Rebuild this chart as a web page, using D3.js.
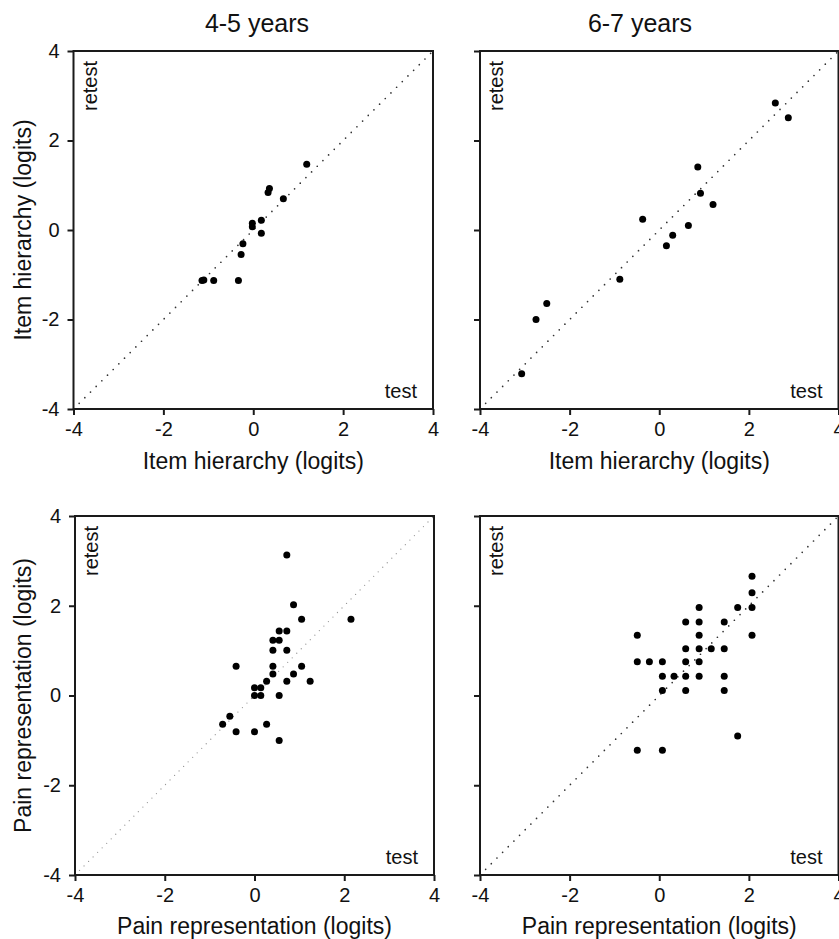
<!DOCTYPE html>
<html>
<head>
<meta charset="utf-8">
<script src="https://cdn.jsdelivr.net/npm/d3@7/dist/d3.min.js"></script>
<style>
  html, body { margin: 0; padding: 0; background: #fff; }
  svg { display: block; }
  text { font-family: "Liberation Sans", Arial, sans-serif; fill: #111; }
</style>
</head>
<body>
<svg id="chart" width="839" height="939"></svg>
<script>
// ---- data (logits) ----
const ticks = [-4, -2, 0, 2, 4];
const tickLabels = ["-4", "-2", "0", "2", "4"];
const titles = ["4-5 years", "6-7 years"];
const xLabels = ["Item hierarchy (logits)", "Pain representation (logits)"];
const yLabels = ["Item hierarchy (logits)", "Pain representation  (logits)"];

// Item hierarchy, 4-5 years
const item45Test   = [1.19, 0.33, 0.36, 0.67, -0.02, -0.02, 0.18, 0.18, -0.23, -0.27, -1.14, -1.10, -0.88, -0.33];
const item45Retest = [1.47, 0.84, 0.93, 0.70, 0.15, 0.07, 0.22, -0.07, -0.31, -0.55, -1.13, -1.12, -1.13, -1.13];

// Item hierarchy, 6-7 years
const item67Test   = [2.59, 2.88, 0.86, 0.92, 1.20, -0.37, 0.65, 0.30, 0.16, -0.88, -2.51, -2.75, -3.07];
const item67Retest = [2.84, 2.51, 1.41, 0.82, 0.57, 0.24, 0.10, -0.12, -0.35, -1.10, -1.64, -2.00, -3.21];

// Pain representation, 4-5 years
const pain45Test   = [0.72, 0.87, 1.05, 2.15, 0.55, 0.72, 0.41, 0.55, 0.41, 0.72, -0.41, 0.41, 1.05, 0.41, 0.87,
                      0.27, 0.72, 1.24, 0.00, 0.14, 0.00, 0.14, 0.55, -0.55, -0.71, 0.27, -0.41, 0.00, 0.55];
const pain45Retest = [3.13, 2.02, 1.70, 1.70, 1.44, 1.44, 1.23, 1.23, 1.01, 1.01, 0.65, 0.65, 0.65, 0.48, 0.48,
                      0.32, 0.32, 0.32, 0.17, 0.17, 0.00, 0.00, 0.00, -0.46, -0.64, -0.64, -0.81, -0.81, -1.00];

// Pain representation, 6-7 years
const pain67Test   = [2.07, 2.07, 0.89, 1.75, 2.07, 0.59, 0.89, 1.45, -0.49, 0.89, 2.07, 0.59, 0.89, 1.16, 1.45,
                      -0.49, -0.22, 0.07, 0.59, 0.89, 0.07, 0.33, 0.59, 0.89, 1.45, 0.07, 0.59, 1.45, 1.75, -0.49, 0.07];
const pain67Retest = [2.66, 2.29, 1.96, 1.96, 1.96, 1.64, 1.64, 1.64, 1.34, 1.34, 1.34, 1.04, 1.04, 1.04, 1.04,
                      0.75, 0.75, 0.75, 0.75, 0.75, 0.43, 0.43, 0.43, 0.43, 0.43, 0.11, 0.11, 0.11, -0.90, -1.22, -1.22];

// ---- layout ----
const panels = [
  { test: item45Test, retest: item45Retest, x0: 73.5, x1: 433, y0: 51, y1: 409, yLab: true, row: 0, col: 0,
    diag: { color: "#333", width: 1.7, dash: "0 8" } },
  { test: item67Test, retest: item67Retest, x0: 480, x1: 838.5, y0: 51, y1: 409, yLab: false, row: 0, col: 1,
    diag: { color: "#333", width: 1.7, dash: "0 8" } },
  { test: pain45Test, retest: pain45Retest, x0: 75, x1: 434, y0: 516, y1: 875, yLab: true, row: 1, col: 0,
    diag: { color: "#999", width: 1.3, dash: "0 6.4" } },
  { test: pain67Test, retest: pain67Retest, x0: 480, x1: 838.5, y0: 516, y1: 875, yLab: false, row: 1, col: 1,
    diag: { color: "#333", width: 1.7, dash: "0 8" } }
];

const svg = d3.select("#chart");

panels.forEach(p => {
  const x = d3.scaleLinear().domain([-4, 4]).range([p.x0, p.x1]);
  const y = d3.scaleLinear().domain([-4, 4]).range([p.y1, p.y0]);
  const g = svg.append("g");

  // diagonal line of identity
  g.append("line")
    .attr("x1", x(-4)).attr("y1", y(-4))
    .attr("x2", x(4)).attr("y2", y(4))
    .attr("stroke", p.diag.color)
    .attr("stroke-width", p.diag.width)
    .attr("stroke-linecap", "round")
    .attr("stroke-dasharray", p.diag.dash);

  // frame
  g.append("rect")
    .attr("x", p.x0).attr("y", p.y0)
    .attr("width", p.x1 - p.x0).attr("height", p.y1 - p.y0)
    .attr("fill", "none").attr("stroke", "#1a1a1a").attr("stroke-width", 2);

  // x axis
  const xAxis = d3.axisBottom(x).tickValues(ticks)
    .tickFormat((d, i) => tickLabels[i]).tickSizeOuter(0).tickSizeInner(6).tickPadding(7);
  const gx = g.append("g").attr("transform", `translate(0,${p.y1})`).call(xAxis);
  gx.select(".domain").remove();
  gx.selectAll(".tick line").attr("stroke", "#1a1a1a").attr("stroke-width", 2);
  gx.selectAll(".tick text").attr("font-size", 20).attr("fill", "#111")
    .attr("font-family", "'Liberation Sans', Arial, sans-serif");

  // y axis
  const yAxis = d3.axisLeft(y).tickValues(ticks)
    .tickFormat((d, i) => p.yLab ? tickLabels[i] : "").tickSizeOuter(0).tickSizeInner(6).tickPadding(8);
  const gy = g.append("g").attr("transform", `translate(${p.x0},0)`).call(yAxis);
  gy.select(".domain").remove();
  gy.selectAll(".tick line").attr("stroke", "#1a1a1a").attr("stroke-width", 2);
  gy.selectAll(".tick text").attr("font-size", 20).attr("fill", "#111")
    .attr("font-family", "'Liberation Sans', Arial, sans-serif");

  // points
  g.selectAll("circle.pt")
    .data(p.test.map((t, i) => [t, p.retest[i]]))
    .join("circle")
    .attr("class", "pt")
    .attr("cx", d => x(d[0]))
    .attr("cy", d => y(d[1]))
    .attr("r", 3.5)
    .attr("fill", "#000");

  // corner labels
  g.append("text")
    .attr("transform", `translate(${p.x0 + 23},${p.y0 + 10}) rotate(-90)`)
    .attr("text-anchor", "end")
    .attr("font-size", 20)
    .text("retest");
  g.append("text")
    .attr("x", p.x1 - 16).attr("y", p.y1 - 11)
    .attr("text-anchor", "end")
    .attr("font-size", 20)
    .text("test");

  // axis titles
  g.append("text")
    .attr("x", (p.x0 + p.x1) / 2)
    .attr("y", p.y1 + (p.row === 0 ? 60 : 59))
    .attr("text-anchor", "middle")
    .attr("font-size", 23)
    .text(xLabels[p.row]);

  if (p.yLab) {
    g.append("text")
      .attr("transform", `translate(31,${(p.y0 + p.y1) / 2}) rotate(-90)`)
      .attr("text-anchor", "middle")
      .attr("font-size", 23)
      .text(yLabels[p.row]);
  }

  if (p.row === 0) {
    g.append("text")
      .attr("x", p.col === 0 ? 257 : 640)
      .attr("y", 32)
      .attr("text-anchor", "middle")
      .attr("font-size", 25)
      .text(titles[p.col]);
  }
});
</script>
</body>
</html>
